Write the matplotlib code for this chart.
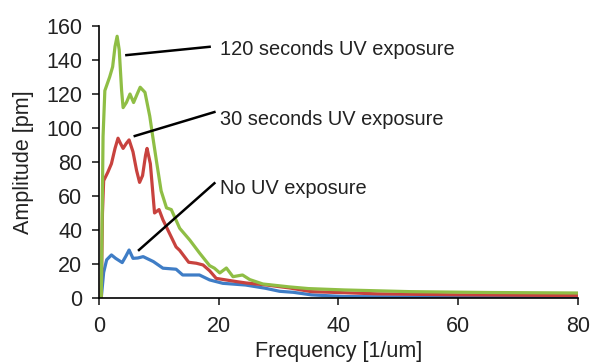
import matplotlib.pyplot as plt

plt.rcParams['font.family'] = ['Liberation Sans', 'DejaVu Sans']

# frequency [1/um] and amplitude [pm]
freq_120 = [0.4, 0.7, 1.0, 1.8, 2.3, 2.7, 3.05, 3.4, 3.8, 4.05, 4.6, 5.2, 5.8, 6.4, 6.9, 7.7,
            8.5, 9.0, 9.6, 10.4, 11.3, 12.1, 13.5, 15.2, 16.8, 18.5, 19.3, 20.2, 21.3,
            22.4, 24.0, 25.2, 27.4, 31.8, 35.0, 41.0, 52.0, 65.0, 80.0]
amp_120 = [0, 95, 122, 130, 136, 148, 154, 146, 122, 112, 115, 120, 115, 120, 124, 121,
           107, 95, 81, 63, 53, 52, 41, 34, 26.5, 19, 17.5, 14.7, 17.6,
           12.5, 13.5, 10.8, 8.2, 6.5, 5.5, 4.7, 3.7, 3.2, 2.9]

freq_30 = [0.4, 0.6, 0.8, 1.5, 2.1, 2.7, 3.2, 3.6, 4.05, 4.6, 5.05, 5.7, 6.3, 6.8, 7.3,
           7.8, 8.05, 8.6, 9.3, 10.05, 10.7, 11.8, 12.9, 13.5, 15.0, 16.3, 17.4, 18.5,
           19.6, 23.0, 24.6, 28.0, 31.8, 35.5, 46.6, 60.0, 80.0]
amp_30 = [0, 50, 69, 74, 79, 88, 94, 91, 88, 91, 93, 86, 75, 68, 72,
          84, 88, 79, 50, 52, 46, 38, 30, 28, 21, 20.4, 19.4, 16,
          11.5, 9.6, 8.8, 7.6, 5.9, 3.7, 2.4, 1.8, 1.4]

freq_0 = [0.4, 0.8, 1.3, 2.1, 2.8, 3.9, 4.5, 5.05, 5.7, 6.5, 7.4, 9.1, 10.7, 12.9, 14.0,
          16.8, 18.5, 20.7, 24.5, 27.8, 30.2, 32.5, 35.5, 41.0, 55.0, 80.0]
amp_0 = [0, 15, 22.4, 25.3, 23.3, 20.8, 24.5, 28.2, 23.3, 23.5, 24.3, 21.4, 17.5, 16.9,
         13.5, 13.5, 10.6, 8.6, 7.6, 5.7, 3.9, 3.3, 1.8, 0.8, 0.5, 0.4]

labels = ['120 seconds UV exposure', '30 seconds UV exposure', 'No UV exposure']
# leader line: curve end, text end; then where the label starts
line_from = [(4.6, 142.9), (6.0, 95.3), (6.7, 28.2)]
line_to = [(18.5, 147.8), (19.3, 109.4), (19.3, 67.5)]
text_at = [(20.2, 146.5), (20.2, 105.0), (20.2, 64.5)]

fig = plt.figure(figsize=(5.92, 3.62), dpi=100)
ax = fig.add_axes([0.167, 0.177, 0.809, 0.751])

style = dict(lw=2.3, solid_joinstyle='round', solid_capstyle='round')
ax.plot(freq_0, amp_0, color='#3f7dc6', **style)
ax.plot(freq_30, amp_30, color='#c8423e', **style)
ax.plot(freq_120, amp_120, color='#8fbe45', **style)

for lab, p0, p1, t in zip(labels, line_from, line_to, text_at):
    ax.plot([p0[0], p1[0]], [p0[1], p1[1]], color='black', lw=1.8, clip_on=False)
    ax.text(t[0], t[1], lab, fontsize=14.4, va='center', ha='left', color='#222222')

ax.set_xlim(0, 80)
ax.set_ylim(0, 160)
ax.set_xticks([0, 20, 40, 60, 80])
ax.set_yticks(range(0, 161, 20))
ax.tick_params(labelsize=15.5, direction='out', length=5, width=1.2, colors='#222222')
ax.tick_params(axis='x', pad=8)
ax.tick_params(axis='y', pad=7)
ax.set_xlabel('Frequency [1/um]', fontsize=15.5, labelpad=3, color='#222222')
ax.set_ylabel('Amplitude [pm]', fontsize=15.5, labelpad=9, color='#222222')
ax.spines['top'].set_visible(False)
ax.spines['right'].set_visible(False)
ax.spines['left'].set_linewidth(1.2)
ax.spines['bottom'].set_linewidth(1.2)

fig.savefig('out.png', dpi=100)
